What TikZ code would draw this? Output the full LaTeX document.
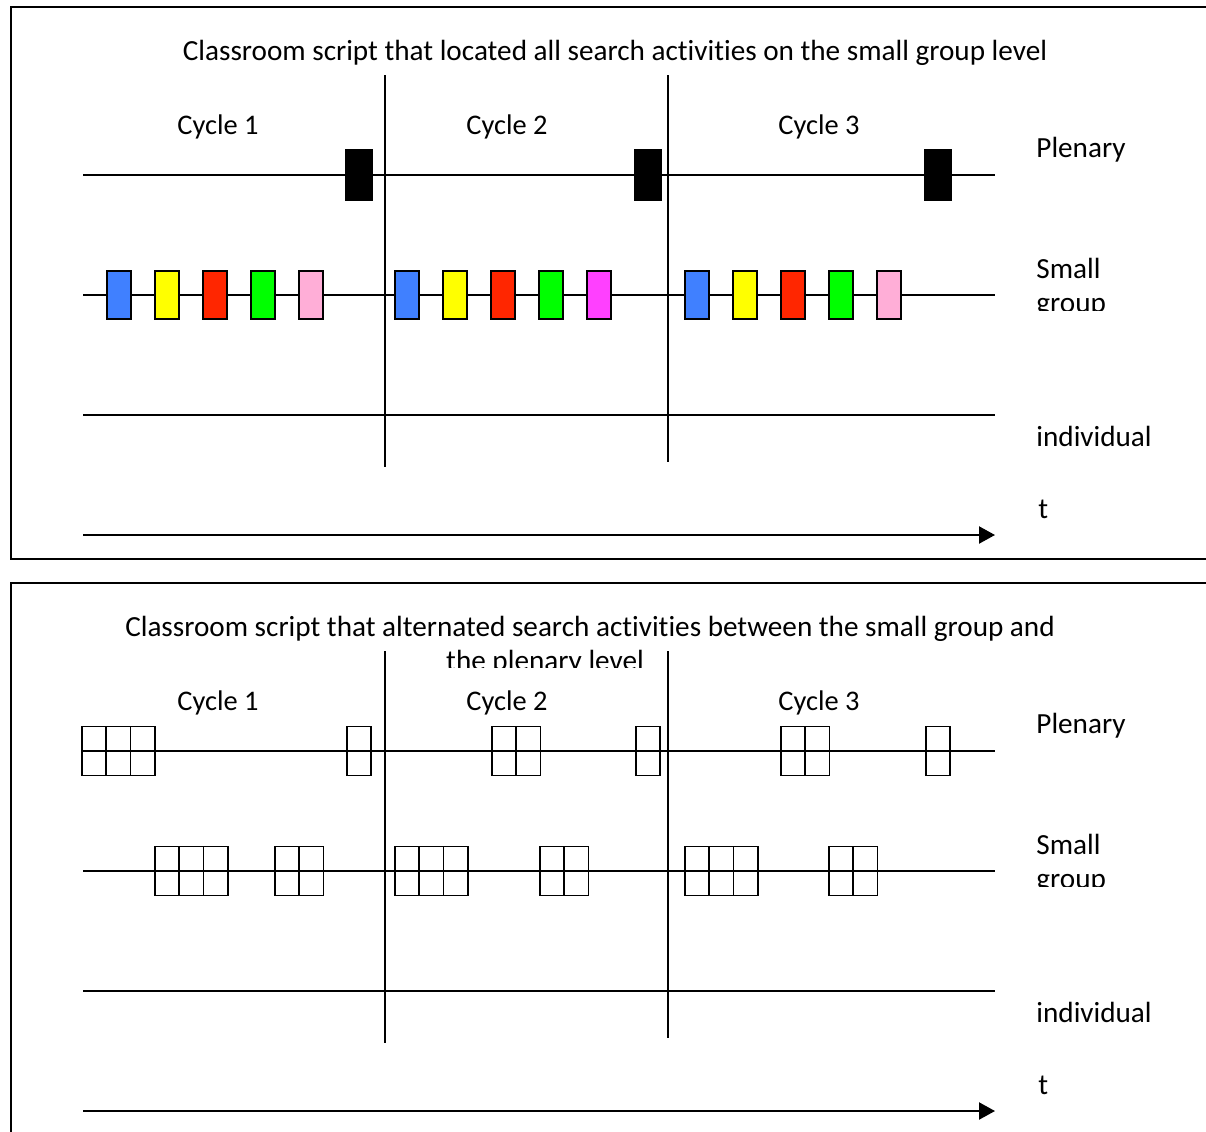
\documentclass[tikz,border=0pt]{standalone}
\usepackage{fontspec}
\setmainfont{Carlito}[Ligatures=NoCommon]
\usetikzlibrary{arrows.meta,positioning}
\definecolor{actblue}{RGB}{64,128,255}
\definecolor{actyellow}{RGB}{255,255,0}
\definecolor{actred}{RGB}{255,38,0}
\definecolor{actgreen}{RGB}{0,255,0}
\definecolor{actpink}{RGB}{255,174,215}
\definecolor{actmagenta}{RGB}{255,64,255}
\begin{document}
\begin{tikzpicture}[x=0.5pt,y=-0.5pt,
      lane/.style={line width=0.7pt},
      cyclesep/.style={line width=0.8pt},
      frame/.style={line width=1pt},
      timearrow/.style={line width=1.1pt,-{Triangle[length=8pt,width=8.5pt]}},
      activity/.style={
         rectangle,
         draw,
         line width=0.8pt,
         minimum width=12pt,
         minimum height=24pt,
         inner sep=0pt,
         outer sep=0pt
      },
      plenblock/.style={activity,fill=black,minimum width=13pt,minimum height=25pt},
      cell/.style={
         rectangle,
         draw,
         line width=0.8pt,
         minimum width=12.15pt,
         minimum height=24.5pt,
         inner sep=0pt,
         outer sep=0pt
      },
      txt/.style={font=\fontsize{14.6}{17}\selectfont,inner sep=0pt,anchor=base},
      cyc/.style={txt,font=\fontsize{14.2}{17}\selectfont},
      level/.style={txt,anchor=base west,align=left},
    ]
    \useasboundingbox (0,0) rectangle (1206,1131);
    % ---------------- upper panel ----------------
    \draw[frame] (1215,7) -- (11,7) -- (11,559) -- (1215,559);
    \node (ttl1) [txt] at (615,60) {Classroom script that located all search activities on the small group level};
    \node (cyc11) [cyc] at (218,134) {Cycle 1};
    \node (cyc12) [cyc] at (507,134) {Cycle 2};
    \node (cyc13) [cyc] at (819,134) {Cycle 3};
    \coordinate (pl1s) at (83,175);  \coordinate (pl1e) at (995,175);
    \coordinate (sg1s) at (83,295);  \coordinate (sg1e) at (995,295);
    \coordinate (in1s) at (83,415);  \coordinate (in1e) at (995,415);
    \coordinate (ta1s) at (83,535);  \coordinate (ta1e) at (995,535);
    \coordinate (sep1a) at (385,75); \coordinate (sep1b) at (385,467);
    \coordinate (sep1c) at (668,75); \coordinate (sep1d) at (668,462);
    \draw[lane] (pl1s) -- (pl1e);
    \draw[lane] (sg1s) -- (sg1e);
    \draw[lane] (in1s) -- (in1e);
    \draw[cyclesep] (sep1a) -- (sep1b);
    \draw[cyclesep] (sep1c) -- (sep1d);
    \draw[timearrow] (ta1s) -- (ta1e);
    \node (pb1) [plenblock] at (359,175) {};
    \node (pb2) [plenblock] at (648,175) {};
    \node (pb3) [plenblock] at (938,175) {};
    % cycle 1
    \node (a11) [activity,fill=actblue] at (119,295) {};
    \node (a12) [activity,fill=actyellow,right=12pt of a11] {};
    \node (a13) [activity,fill=actred,right=12pt of a12] {};
    \node (a14) [activity,fill=actgreen,right=12pt of a13] {};
    \node (a15) [activity,fill=actpink,right=12pt of a14] {};
    % cycle 2
    \node (a21) [activity,fill=actblue] at (407,295) {};
    \node (a22) [activity,fill=actyellow,right=12pt of a21] {};
    \node (a23) [activity,fill=actred,right=12pt of a22] {};
    \node (a24) [activity,fill=actgreen,right=12pt of a23] {};
    \node (a25) [activity,fill=actmagenta,right=12pt of a24] {};
    % cycle 3
    \node (a31) [activity,fill=actblue] at (697,295) {};
    \node (a32) [activity,fill=actyellow,right=12pt of a31] {};
    \node (a33) [activity,fill=actred,right=12pt of a32] {};
    \node (a34) [activity,fill=actgreen,right=12pt of a33] {};
    \node (a35) [activity,fill=actpink,right=12pt of a34] {};
    \node (plen1) [level] at (1036,157) {Plenary};
    \begin{scope}
      \clip (1000,250) rectangle (1206,310);
      \node (smgr1) [level] at (1036,312) {Small\\group};
    \end{scope}
    \node (indv1) [level] at (1036,446) {individual};
    \node (time1) [level] at (1038,518) {t};
    % ---------------- lower panel ----------------
    \draw[frame] (1215,583) -- (11,583) -- (11,1140);
    \node (ttl2) [txt] at (590,636) {Classroom script that alternated search activities between the small group and};
    \begin{scope}
      \clip (300,640) rectangle (900,667);
      \node (ttl2b) [txt] at (545,670) {the plenary level};
    \end{scope}
    \node (cyc21) [cyc] at (218,710) {Cycle 1};
    \node (cyc22) [cyc] at (507,710) {Cycle 2};
    \node (cyc23) [cyc] at (819,710) {Cycle 3};
    \coordinate (pl2s) at (83,751);  \coordinate (pl2e) at (995,751);
    \coordinate (sg2s) at (83,871);  \coordinate (sg2e) at (995,871);
    \coordinate (in2s) at (83,991);  \coordinate (in2e) at (995,991);
    \coordinate (ta2s) at (83,1111); \coordinate (ta2e) at (995,1111);
    \coordinate (sep2a) at (385,651); \coordinate (sep2b) at (385,1043);
    \coordinate (sep2c) at (668,651); \coordinate (sep2d) at (668,1038);
    \draw[lane] (pl2s) -- (pl2e);
    \draw[lane] (sg2s) -- (sg2e);
    \draw[lane] (in2s) -- (in2e);
    \draw[cyclesep] (sep2a) -- (sep2b);
    \draw[cyclesep] (sep2c) -- (sep2d);
    \draw[timearrow] (ta2s) -- (ta2e);
    % cycle 1
    \node (p11) [cell] at (94,751) {};
    \node (p12) [cell,right=0pt of p11] {};
    \node (p13) [cell,right=0pt of p12] {};
    \node (p14) [cell] at (359,751) {};
    \node (s11) [cell] at (167,871) {};
    \node (s12) [cell,right=0pt of s11] {};
    \node (s13) [cell,right=0pt of s12] {};
    \node (s14) [cell] at (287,871) {};
    \node (s15) [cell,right=0pt of s14] {};
    % cycle 2
    \node (s21) [cell] at (407,871) {};
    \node (s22) [cell,right=0pt of s21] {};
    \node (s23) [cell,right=0pt of s22] {};
    \node (p21) [cell] at (504,751) {};
    \node (p22) [cell,right=0pt of p21] {};
    \node (s24) [cell] at (552,871) {};
    \node (s25) [cell,right=0pt of s24] {};
    \node (p23) [cell] at (648,751) {};
    % cycle 3
    \node (s31) [cell] at (697,871) {};
    \node (s32) [cell,right=0pt of s31] {};
    \node (s33) [cell,right=0pt of s32] {};
    \node (p31) [cell] at (793,751) {};
    \node (p32) [cell,right=0pt of p31] {};
    \node (s34) [cell] at (841,871) {};
    \node (s35) [cell,right=0pt of s34] {};
    \node (p33) [cell] at (938,751) {};
    \node (plen2) [level] at (1036,733) {Plenary};
    \begin{scope}
      \clip (1000,826) rectangle (1206,886);
      \node (smgr2) [level] at (1036,888) {Small\\group};
    \end{scope}
    \node (indv2) [level] at (1036,1022) {individual};
    \node (time2) [level] at (1038,1094) {t};
\end{tikzpicture}
\end{document}
